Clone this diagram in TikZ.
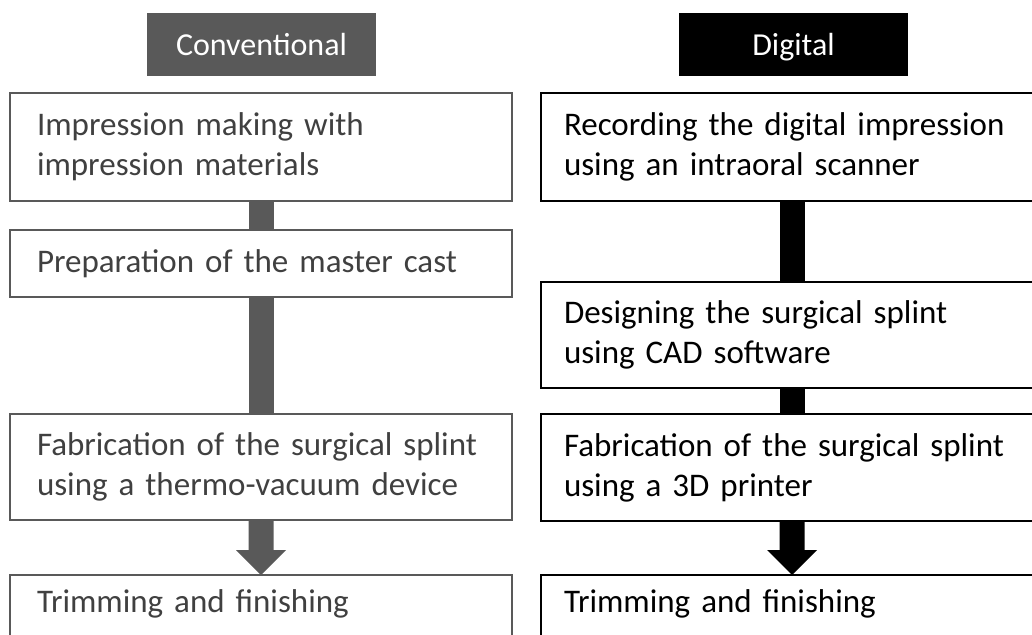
\documentclass[tikz,border=0pt]{standalone}
\usepackage{fontspec}
\setmainfont{Carlito}
\usetikzlibrary{calc}
\definecolor{convgray}{HTML}{595959}
\definecolor{convtext}{HTML}{404040}
\tikzset{
  hdr/.style={rectangle, minimum width=229pt, minimum height=63pt, inner sep=0pt, outer sep=0pt, text=white, text height=23pt, text depth=0pt, font=\fontsize{32}{38}\selectfont},
  boxbase/.style={rectangle, draw, line width=2pt, anchor=north west, outer sep=0pt, inner ysep=0pt, align=left, font=\fontsize{33}{40}\selectfont},
  lbox/.style={boxbase, draw=convgray, text=convtext, inner xsep=27pt, text width=448pt},
  rbox/.style={boxbase, draw=black, text=black, inner xsep=23pt, text width=456pt},
  lastbox/.style={text height=37pt, text depth=100pt, minimum height=0pt}
}
\begin{document}
\begin{tikzpicture}[x=1pt,y=-1pt]
\useasboundingbox (0,0) rectangle (1032,634);
\clip (0,0) rectangle (1032,634);
% headers
\node[hdr, fill=convgray] (hc) at (261.5,44.5) {Conventional};
\node[hdr, fill=black] (hd) at (793.5,44.5) {Digital};
% left column
\node[lbox, minimum height=108pt] (L1) at (10,93) {Impression making with\\impression materials};
\node[lbox, minimum height=67pt] (L2) at (10,230) {Preparation of the master cast};
\node[lbox, minimum height=106pt] (L3) at (10,414) {Fabrication of the surgical splint\\using a thermo-vacuum device};
\node[lbox, lastbox] (L4) at (10,575) {Trimming and finishing};
% right column
\node[rbox, minimum height=108pt] (R1) at (541,93) {Recording the digital impression\\using an intraoral scanner};
\node[rbox, minimum height=106pt] (R2) at (541,282) {Designing the surgical splint\\using CAD software};
\node[rbox, minimum height=107pt] (R3) at (541,414) {Fabrication of the surgical splint\\using a 3D printer};
\node[rbox, lastbox] (R4) at (541,575) {Trimming and finishing};
% left connectors
\fill[convgray] ($(L1.south)+(-12.5,1)$) rectangle ($(L2.north)+(12.5,-1)$);
\fill[convgray] ($(L2.south)+(-12.5,1)$) rectangle ($(L3.north)+(12.5,-1)$);
\fill[convgray] ($(L3.south)+(-12.5,1)$) -- ($(L4.north)+(-12.5,-25)$) -- ($(L4.north)+(-25,-25)$) -- (L4.north) -- ($(L4.north)+(25,-25)$) -- ($(L4.north)+(12.5,-25)$) -- ($(L3.south)+(12.5,1)$) -- cycle;
% right connectors
\fill[black] ($(R1.south)+(-12.5,1)$) rectangle ($(R2.north)+(12.5,-1)$);
\fill[black] ($(R2.south)+(-12.5,1)$) rectangle ($(R3.north)+(12.5,-1)$);
\fill[black] ($(R3.south)+(-12.5,1)$) -- ($(R4.north)+(-12.5,-25)$) -- ($(R4.north)+(-25,-25)$) -- (R4.north) -- ($(R4.north)+(25,-25)$) -- ($(R4.north)+(12.5,-25)$) -- ($(R3.south)+(12.5,1)$) -- cycle;
\end{tikzpicture}
\end{document}
